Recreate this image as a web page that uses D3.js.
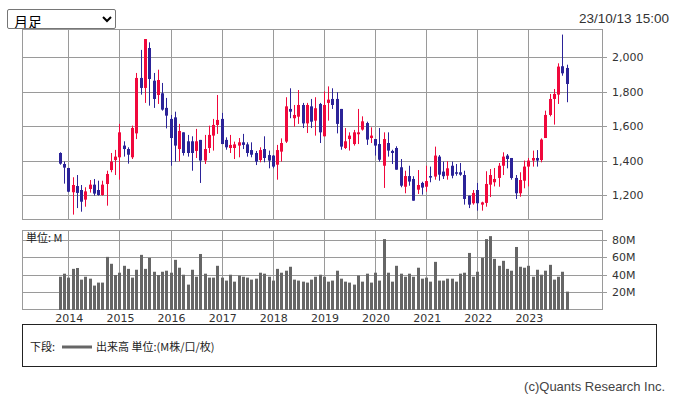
<!DOCTYPE html>
<html>
<head>
<meta charset="utf-8">
<script src="https://cdn.jsdelivr.net/npm/d3@7"></script>
<style>
  body { margin: 0; background: #fff; }
  .wrap { position: relative; width: 675px; height: 397px; }
  .period {
    position: absolute; left: 7px; top: 9px; width: 109px; height: 20px;
    font: 14px "Noto Sans CJK JP", sans-serif; padding: 0 2px;
    border: 1px solid #767676; border-radius: 2px; background: #fff;
  }
  svg { position: absolute; left: 0; top: 0; }
  .tick-label { font: 11px "DejaVu Sans", sans-serif; fill: #333; }
</style>
</head>
<body>
<div class="wrap">
  <svg class="mysvg"></svg>
  <select class="period"><option>月足</option><option>週足</option><option>日足</option></select>
</div>
<script>
// monthly candles, Nov 2013 .. Oct 2023
const openVals = [1444,1380,1357,1216,1252,1229,1173,1235,1260,1229,1200,1264,1345,1403,1419,1487,1467,1419,1558,1880,1822,2054,1864,1781,
  1791,1706,1642,1651,1467,1564,1512,1512,1456,1520,1400,1473,1545,1607,1642,1520,1473,1473,1487,1506,1494,1461,1444,1403,
  1467,1432,1429,1376,1452,1510,1700,1646,1655,1723,1616,1715,1632,1729,1541,1735,1758,1758,1700,1473,1525,1496,1553,1580,
  1618,1531,1525,1496,1370,1502,1456,1473,1361,1248,1310,1293,1231,1270,1248,1310,1307,1423,1336,1312,1370,1332,1332,1316,
  1196,1152,1229,1144,1154,1260,1274,1299,1370,1429,1415,1299,1210,1283,1365,1400,1415,1403,1531,1665,1758,1783,1948,1938];
const highVals = [1448,1394,1357,1303,1316,1258,1245,1287,1293,1283,1283,1341,1444,1462,1613,1512,1477,1603,1909,2043,2106,2087,1909,1928,
  1851,1764,1665,1684,1613,1564,1549,1541,1584,1520,1549,1603,1642,1781,1677,1535,1549,1510,1531,1555,1506,1506,1456,1477,
  1541,1458,1432,1491,1529,1768,1820,1723,1810,1735,1735,1758,1768,1735,1802,1831,1820,1797,1700,1589,1564,1578,1700,1657,
  1626,1593,1525,1589,1564,1564,1463,1483,1409,1341,1370,1309,1345,1277,1370,1365,1481,1432,1394,1396,1394,1380,1386,1341,
  1196,1229,1270,1161,1338,1351,1357,1386,1448,1438,1415,1316,1332,1400,1415,1458,1461,1529,1690,1787,1816,1965,2132,1957];
const lowVals = [1376,1266,1216,1086,1124,1103,1132,1214,1196,1196,1196,1138,1332,1316,1289,1423,1382,1409,1525,1783,1735,1719,1706,1729,
  1690,1587,1370,1394,1396,1429,1423,1341,1415,1270,1380,1444,1458,1555,1496,1463,1444,1409,1419,1467,1423,1419,1374,1390,
  1390,1355,1355,1289,1394,1502,1646,1597,1613,1589,1560,1589,1545,1502,1541,1632,1700,1558,1463,1467,1458,1487,1496,1574,
  1491,1502,1429,1394,1241,1423,1380,1347,1245,1210,1254,1167,1206,1202,1219,1274,1289,1283,1293,1289,1297,1312,1312,1144,
  1124,1144,1109,1109,1132,1188,1250,1248,1316,1355,1289,1177,1190,1239,1250,1365,1365,1390,1531,1657,1609,1729,1893,1739];
const closeVals = [1382,1359,1219,1258,1212,1161,1221,1260,1208,1200,1260,1322,1394,1423,1564,1467,1434,1589,1880,1822,2106,1874,1758,1868,
  1696,1661,1531,1487,1572,1444,1444,1444,1512,1400,1467,1549,1607,1636,1496,1477,1491,1494,1506,1491,1444,1434,1394,1461,
  1415,1400,1365,1461,1502,1715,1684,1665,1723,1616,1723,1626,1704,1564,1723,1754,1723,1613,1481,1512,1545,1564,1564,1628,
  1522,1545,1487,1405,1525,1458,1444,1347,1254,1310,1278,1167,1258,1243,1281,1307,1429,1318,1309,1355,1312,1328,1318,1177,
  1144,1212,1152,1157,1264,1316,1293,1370,1423,1409,1299,1210,1287,1365,1400,1415,1400,1522,1665,1758,1787,1946,1907,1845];
// volume, millions
const volumeVals = [38,41.5,37,47,48,34.7,38,35.8,27.9,31.3,31.3,60.7,52.8,40,42.6,50.5,47,37,46,63,47,59.6,43.7,40,
  43.7,44.9,42.6,57.3,48.3,40.3,29,46,38,64,41.5,37,37,50.5,37,33.6,40.3,32.4,39.2,38,37,34.7,35.8,42.6,
  41.5,38,33.6,47,42.6,44.9,49.4,34.7,33.6,32.4,31.3,34.7,38,40.3,38,32.4,33.6,44.9,35.8,32.4,31.3,29,39.4,32.4,
  41.5,31.3,42.6,33.6,81,42.6,32.4,50.5,41.5,38,41.5,38,48.3,35.8,37,32.4,55,33.6,33.6,35.8,35.8,32.4,41.5,42.6,
  65.2,38,43.7,59.6,81,84.4,58.4,50.5,56.2,47,44.9,72,49.4,48.3,50.5,38,46,40.3,44.9,51.6,34.7,38,43.7,21];

const yearLabels = ["2014","2015","2016","2017","2018","2019","2020","2021","2022","2023"];
const yearIndex = [2,14,26,38,50,62,74,86,98,110]; // January of each year
const priceTicks = [1200,1400,1600,1800,2000];
const volumeTicks = [20,40,60,80];

const width = 675, height = 397;
const plot = { left: 22, right: 602, top: 29.5, bottom: 219.5 };
const vol = { top: 230, bottom: 310 };
const upColor = "#f0083c", downColor = "#2b2398", gridColor = "#9a9a9a";

const svg = d3.select(".mysvg").attr("width", width).attr("height", height);

const xScale = d3.scaleLinear().domain([-8.87, 127.28]).range([plot.left, plot.right]);
const yScale = d3.scaleLinear().domain([1057.6, 2161.5]).range([plot.bottom, plot.top]);
const vScale = d3.scaleLinear().domain([0, 91.4]).range([vol.bottom, vol.top]);

const data = openVals.map((o, i) => ({
  i: i, open: o, high: highVals[i], low: lowVals[i], close: closeVals[i], volume: volumeVals[i]
}));

// date / time stamp
svg.append("text")
  .attr("x", 669).attr("y", 23)
  .attr("text-anchor", "end")
  .style("font", "13.5px 'Liberation Sans', Arial, sans-serif")
  .style("fill", "#333")
  .text("23/10/13 15:00");

// ---- grids
function drawGrid(g, top, bottom, yTicks, scale) {
  g.selectAll(".vgrid").data(yearIndex).enter().append("line")
    .attr("x1", d => Math.round(xScale(d)) + 0.5).attr("x2", d => Math.round(xScale(d)) + 0.5)
    .attr("y1", top).attr("y2", bottom)
    .attr("stroke", gridColor);
  g.selectAll(".hgrid").data(yTicks).enter().append("line")
    .attr("x1", plot.left).attr("x2", plot.right + 5)
    .attr("y1", d => Math.round(scale(d)) + 0.5).attr("y2", d => Math.round(scale(d)) + 0.5)
    .attr("stroke", gridColor);
  g.append("rect")
    .attr("x", plot.left + 0.5).attr("y", top)
    .attr("width", plot.right - plot.left).attr("height", bottom - top)
    .attr("fill", "none").attr("stroke", gridColor);
}

const priceG = svg.append("g");
drawGrid(priceG, plot.top, plot.bottom, priceTicks, yScale);
const volG = svg.append("g");
drawGrid(volG, vol.top + 0.5, vol.bottom - 0.5, volumeTicks, vScale);

// right axis labels
svg.selectAll(".plabel").data(priceTicks).enter().append("text")
  .attr("class", "tick-label")
  .attr("x", 612).attr("y", d => yScale(d) + 4)
  .text(d => d3.format(",")(d));
svg.selectAll(".vlabel").data(volumeTicks).enter().append("text")
  .attr("class", "tick-label")
  .attr("x", 612).attr("y", d => vScale(d) + 4)
  .text(d => d + "M");

svg.append("text")
  .attr("x", 26).attr("y", 242)
  .style("font", "11px 'Noto Sans CJK JP', sans-serif")
  .style("fill", "#222")
  .text("単位: M");

// year labels
svg.selectAll(".xlabel").data(yearIndex).enter().append("text")
  .attr("class", "tick-label")
  .attr("x", d => xScale(d) + 1).attr("y", 322)
  .attr("text-anchor", "middle")
  .text((d, k) => yearLabels[k]);

// ---- candles
const candles = svg.append("g").selectAll("g").data(data).enter().append("g");
candles.append("rect")
  .attr("x", d => Math.round(xScale(d.i)))
  .attr("y", d => yScale(d.high))
  .attr("width", 1)
  .attr("height", d => yScale(d.low) - yScale(d.high))
  .attr("fill", d => d.close >= d.open ? upColor : downColor);
candles.append("rect")
  .attr("x", d => Math.round(xScale(d.i)) - 1)
  .attr("y", d => yScale(Math.max(d.open, d.close)))
  .attr("width", 3)
  .attr("height", d => Math.max(1.5, Math.abs(yScale(d.open) - yScale(d.close))))
  .attr("fill", d => d.close >= d.open ? upColor : downColor);

// ---- volume bars
svg.append("g").selectAll("rect").data(data).enter().append("rect")
  .attr("x", d => Math.round(xScale(d.i)) - 1)
  .attr("y", d => vScale(d.volume))
  .attr("width", 3)
  .attr("height", d => vScale(0) - vScale(d.volume))
  .attr("fill", "#666");

// ---- legend box
svg.append("rect")
  .attr("x", 22.5).attr("y", 324.5).attr("width", 634).attr("height", 42)
  .attr("fill", "none").attr("stroke", "#222");
svg.append("text")
  .attr("x", 30).attr("y", 351)
  .style("font", "11px 'Noto Sans CJK JP', sans-serif").style("fill", "#222")
  .text("下段:");
svg.append("line")
  .attr("x1", 62).attr("x2", 92).attr("y1", 347).attr("y2", 347)
  .attr("stroke", "#666").attr("stroke-width", 3);
svg.append("text")
  .attr("x", 96).attr("y", 351)
  .style("font", "11px 'Noto Sans CJK JP', sans-serif").style("fill", "#222")
  .text("出来高 単位:(M株/口/枚)");

svg.append("text")
  .attr("x", 665).attr("y", 391)
  .attr("text-anchor", "end")
  .style("font", "13px 'Liberation Sans', Arial, sans-serif").style("fill", "#444")
  .text("(c)Quants Research Inc.");
</script>
</body>
</html>
